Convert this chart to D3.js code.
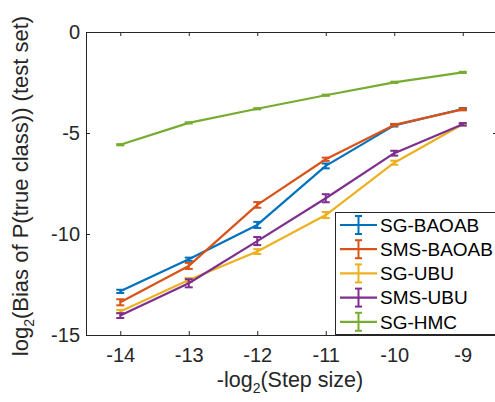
<!DOCTYPE html>
<html>
<head>
<meta charset="utf-8">
<script src="https://cdn.jsdelivr.net/npm/d3@7"></script>
<style>
  body { margin: 0; background: #fff; }
  svg { display: block; font-family: "Liberation Sans", Arial, sans-serif; }
</style>
</head>
<body>
<svg id="chart" width="495" height="402"></svg>
<script>
// x values: -log2(step size)
const steps = [-14, -13, -12, -11, -10, -9];
const xTicks = [-14, -13, -12, -11, -10, -9];
const yTicks = [-15, -10, -5, 0];

const names = ["SG-BAOAB", "SMS-BAOAB", "SG-UBU", "SMS-UBU", "SG-HMC"];
const colors = ["#0072BD", "#D95319", "#EDB120", "#7E2F8E", "#77AC30"];

const sgBaoab   = [-12.84, -11.25, -9.55, -6.63, -4.62, -3.81];
const smsBaoab  = [-13.38, -11.58, -8.56, -6.30, -4.60, -3.83];
const sgUbu     = [-13.84, -12.28, -10.87, -9.06, -6.47, -4.57];
const smsUbu    = [-14.04, -12.44, -10.35, -8.23, -6.00, -4.57];
const sgHmc     = [-5.58, -4.50, -3.80, -3.13, -2.49, -2.00];

const errBaoab    = [0.08, 0.08, 0.15, 0.12, 0.06, 0.05];
const errSmsBaoab = [0.15, 0.15, 0.14, 0.08, 0.05, 0.05];
const errUbu      = [0.08, 0.10, 0.12, 0.15, 0.10, 0.06];
const errSmsUbu   = [0.12, 0.20, 0.20, 0.20, 0.12, 0.06];
const errHmc      = [0.03, 0.03, 0.03, 0.03, 0.03, 0.03];

const series = [
  { name: names[0], color: colors[0], y: sgBaoab, e: errBaoab },
  { name: names[1], color: colors[1], y: smsBaoab, e: errSmsBaoab },
  { name: names[2], color: colors[2], y: sgUbu, e: errUbu },
  { name: names[3], color: colors[3], y: smsUbu, e: errSmsUbu },
  { name: names[4], color: colors[4], y: sgHmc, e: errHmc }
];

const svg = d3.select("#chart");
const mLeft = 86, mTop = 32, mRight = 497, mBottom = 335;
const axisColor = "#262626";

const x = d3.scaleLinear().domain([-14.5, -8.5]).range([mLeft, mRight]);
const y = d3.scaleLinear().domain([-15, 0]).range([mBottom, mTop]);

// axes with inward ticks (matlab look)
function styleAxis(g) {
  g.selectAll("path.domain").attr("stroke", axisColor).attr("stroke-width", 1);
  g.selectAll(".tick line").attr("stroke", axisColor).attr("stroke-width", 1);
  g.selectAll(".tick text").attr("fill", axisColor).style("font-size", "20px")
    .style("font-family", "'Liberation Sans', Arial, sans-serif");
}
const fmt = d => String(d);

svg.append("g")
  .attr("transform", `translate(0,${mBottom})`)
  .call(d3.axisBottom(x).tickValues(xTicks).tickFormat(fmt).tickSizeInner(-4).tickSizeOuter(0).tickPadding(13))
  .call(styleAxis);

svg.append("g")
  .attr("transform", `translate(0,${mTop})`)
  .call(d3.axisTop(x).tickValues(xTicks).tickSizeInner(-4).tickSizeOuter(0).tickFormat(""))
  .call(styleAxis);

svg.append("g")
  .attr("transform", `translate(${mLeft},0)`)
  .call(d3.axisLeft(y).tickValues(yTicks).tickFormat(fmt).tickSizeInner(-4).tickSizeOuter(0).tickPadding(6))
  .call(styleAxis);

svg.append("g")
  .attr("transform", `translate(${mRight},0)`)
  .call(d3.axisRight(y).tickValues(yTicks).tickSizeInner(-4).tickSizeOuter(0).tickFormat(""))
  .call(styleAxis);

// lines and error bars
const line = d3.line().x((d, i) => x(steps[i])).y(d => y(d));
const capW = 4;

series.forEach(s => {
  svg.append("path")
    .datum(s.y)
    .attr("d", line)
    .attr("fill", "none")
    .attr("stroke", s.color)
    .attr("stroke-width", 2.2)
    .attr("stroke-linejoin", "round");

  const eb = svg.append("g").selectAll("g")
    .data(s.y.map((v, i) => ({ x: steps[i], v: v, e: s.e[i] })))
    .enter().append("g")
    .attr("stroke", s.color)
    .attr("stroke-width", 2);

  eb.append("line")
    .attr("x1", d => x(d.x)).attr("x2", d => x(d.x))
    .attr("y1", d => y(d.v - d.e)).attr("y2", d => y(d.v + d.e));
  eb.append("line")
    .attr("x1", d => x(d.x) - capW).attr("x2", d => x(d.x) + capW)
    .attr("y1", d => y(d.v - d.e)).attr("y2", d => y(d.v - d.e));
  eb.append("line")
    .attr("x1", d => x(d.x) - capW).attr("x2", d => x(d.x) + capW)
    .attr("y1", d => y(d.v + d.e)).attr("y2", d => y(d.v + d.e));
});

// legend
const lg = svg.append("g");
lg.append("rect")
  .attr("x", 335.5).attr("y", 212.5)
  .attr("width", 162).attr("height", 122)
  .attr("fill", "#fff")
  .attr("stroke", axisColor)
  .attr("stroke-width", 1);

const items = lg.selectAll("g.item")
  .data(series)
  .enter().append("g")
  .attr("class", "item")
  .attr("transform", (d, i) => `translate(0,${225 + i * 24.2})`);

items.append("line")
  .attr("x1", 340).attr("x2", 377).attr("y1", 0).attr("y2", 0)
  .attr("stroke", d => d.color).attr("stroke-width", 2.2);
items.append("line")
  .attr("x1", 358.5).attr("x2", 358.5).attr("y1", -9).attr("y2", 9)
  .attr("stroke", d => d.color).attr("stroke-width", 2);
items.append("line")
  .attr("x1", 355).attr("x2", 362).attr("y1", -9).attr("y2", -9)
  .attr("stroke", d => d.color).attr("stroke-width", 2);
items.append("line")
  .attr("x1", 355).attr("x2", 362).attr("y1", 9).attr("y2", 9)
  .attr("stroke", d => d.color).attr("stroke-width", 2);
items.append("text")
  .attr("x", 380).attr("y", 0).attr("dy", "0.36em")
  .attr("fill", "#000")
  .style("font-size", "19px")
  .text(d => d.name);

// axis labels
const xl = svg.append("text")
  .attr("x", 290).attr("y", 387)
  .attr("text-anchor", "middle")
  .attr("fill", axisColor)
  .style("font-size", "21.5px");
xl.append("tspan").text("-log");
xl.append("tspan").attr("dy", 6).style("font-size", "14px").text("2");
xl.append("tspan").attr("dy", -6).text("(Step size)");

const yl = svg.append("text")
  .attr("transform", "translate(28,186) rotate(-90)")
  .attr("text-anchor", "middle")
  .attr("fill", axisColor)
  .style("font-size", "22px");
yl.append("tspan").text("log");
yl.append("tspan").attr("dy", 6).style("font-size", "14px").text("2");
yl.append("tspan").attr("dy", -6).text("(Bias of P(true class)) (test set)");
</script>
</body>
</html>
